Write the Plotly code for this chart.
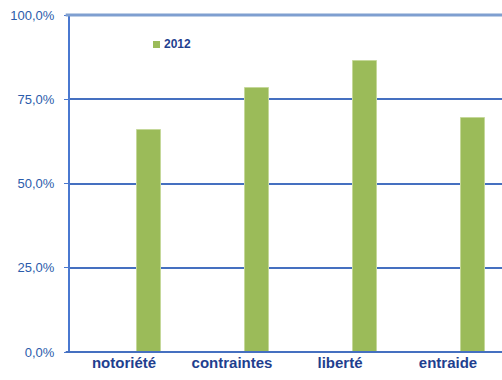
import plotly.graph_objects as go

categories = ["notoriété", "contraintes", "liberté", "entraide"]
values_2012 = [0.659, 0.783, 0.864, 0.694]
series_name = "2012"
tick_vals = [0, 0.25, 0.5, 0.75, 1.0]

BAR = "#9bbb59"
NAVY = "#1f3f8f"

fig = go.Figure()
fig.add_trace(go.Bar(
    x=categories, y=values_2012, name=series_name,
    marker=dict(color=BAR, line=dict(color="#c5d89a", width=1)),
    offset=0.12, width=0.22, showlegend=False,
))

fig.update_layout(
    width=502, height=380,
    margin=dict(l=70, r=0, t=15, b=28),
    paper_bgcolor="white", plot_bgcolor="white",
    separators=", ",
    font=dict(family="Liberation Sans, Arial"),
    bargap=0,
)
fig.update_xaxes(
    type="category", range=[-0.5, 3.5],
    showgrid=False, showline=False, ticks="",
    tickfont=dict(size=15, color=NAVY, weight="bold"),
)
fig.update_yaxes(
    range=[0, 1], tickvals=tick_vals, tickformat=".1%",
    showgrid=True, gridcolor="#4570c0", gridwidth=1.5,
    showline=True, linecolor="#4a78d0", linewidth=2,
    ticks="outside", ticklen=4, tickcolor="#4a78d0",
    tickfont=dict(size=13, color="#2b5cab"),
    ticklabelstandoff=7,
    zeroline=False,
)
# colored reference lines
fig.add_shape(type="line", xref="paper", yref="y", x0=0, x1=1, y0=0.75, y1=0.75,
              line=dict(color="#1a3d8a", width=1.5), layer="between")
fig.add_shape(type="line", xref="paper", yref="paper", x0=-0.01, x1=1, y0=1.0, y1=1.0,
              line=dict(color="#7f9fd0", width=3), layer="above")
fig.add_shape(type="line", xref="paper", yref="paper", x0=-0.01, x1=1, y0=0, y1=0,
              line=dict(color="#4570c0", width=2), layer="above")

# custom legend
fig.add_shape(type="rect", xref="paper", yref="paper",
              x0=(153 - 70) / 432, x1=(160 - 70) / 432,
              y0=(352 - 48) / 337, y1=(352 - 41) / 337,
              fillcolor=BAR, line=dict(width=0))
fig.add_annotation(xref="paper", yref="paper", x=(162 - 70) / 432, y=(352 - 44.5) / 337,
                   xanchor="left", yanchor="middle", showarrow=False,
                   text="<b>" + series_name + "</b>",
                   font=dict(size=12, color=NAVY))

fig.write_html(
    "out.html",
    config={"displayModeBar": False},
    post_script="document.body.style.margin='0';document.body.style.overflow='hidden';",
)
